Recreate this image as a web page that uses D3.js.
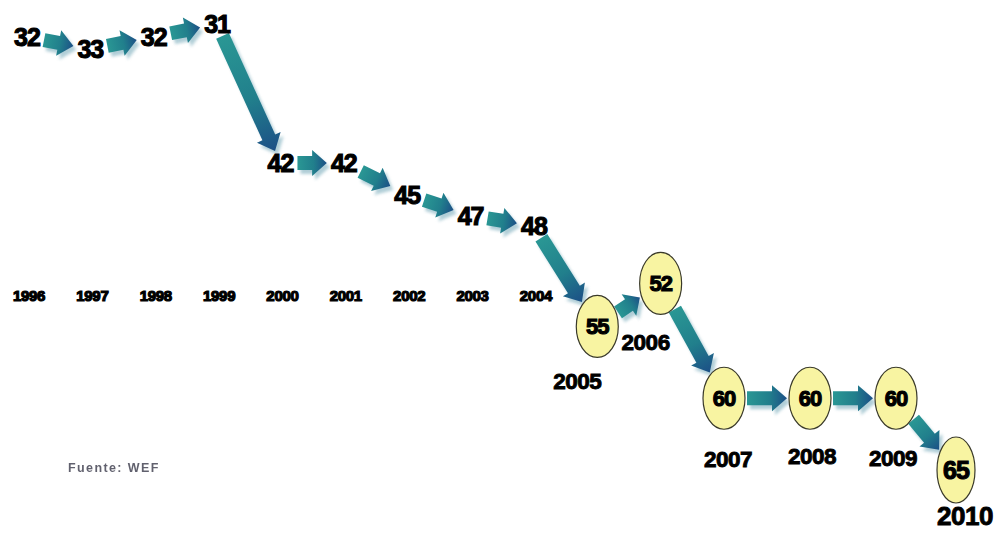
<!DOCTYPE html>
<html>
<head>
<meta charset="utf-8">
<script src="https://cdn.jsdelivr.net/npm/d3@7/dist/d3.min.js"></script>
<style>
  html, body { margin: 0; padding: 0; background: #ffffff; overflow: hidden; }
  svg { display: block; }
</style>
</head>
<body>
<script>
// ---------- data ----------
const years = [1996, 1997, 1998, 1999, 2000, 2001, 2002, 2003, 2004, 2005, 2006, 2007, 2008, 2009, 2010];
const values = [32, 33, 32, 31, 42, 42, 45, 47, 48, 55, 52, 60, 60, 60, 65];
const circledYears = [2005, 2006, 2007, 2008, 2009, 2010];
const sourceText = "Fuente: WEF";

// ---------- layout ----------
const W = 1002, H = 533;
const svg = d3.select("body").append("svg").attr("width", W).attr("height", H);

const x = d3.scaleLinear().domain([1996, 2007, 2009, 2010]).range([27, 724, 896, 956]);
const y = d3.scaleLinear().domain([31, 42, 48, 65]).range([24, 163, 226, 470]);
const yearRowY = 295;
// nudges for the circled-year captions (dx, dy from ellipse centre)
const captionDx = [-20, -15, 4, 2, -3, 9];
const captionDy = [55, 59, 61, 58, 60, 46];

const nodes = years.map((yr, i) => ({
  year: yr, value: values[i], cx: x(yr), cy: y(values[i]),
  circled: circledYears.includes(yr)
}));
const last = years[years.length - 1];

// defs
const defs = svg.append("defs");
const grad = defs.append("linearGradient").attr("id", "arrowGrad")
  .attr("x1", "0").attr("y1", "0").attr("x2", "1").attr("y2", "0");
grad.append("stop").attr("offset", "0%").attr("stop-color", "#2a9794");
grad.append("stop").attr("offset", "55%").attr("stop-color", "#217f8c");
grad.append("stop").attr("offset", "100%").attr("stop-color", "#1c4f86");
defs.append("filter").attr("id", "blur").attr("x", "-20%").attr("y", "-40%").attr("width", "140%").attr("height", "180%")
  .append("feGaussianBlur").attr("stdDeviation", 1.6);

// node extents
function extent(n) {
  if (n.circled) {
    const big = n.year === last;
    return { type: "e", rx: big ? 19 : 21, ry: big ? 33 : 31 };
  }
  return { type: "b", w: 16, h: 11 };
}
function boundary(n, ux, uy) {
  const e = extent(n);
  if (e.type === "e") return 1 / Math.sqrt((ux / e.rx) ** 2 + (uy / e.ry) ** 2) + 2;
  const tx = Math.abs(ux) > 1e-6 ? e.w / Math.abs(ux) : Infinity;
  const ty = Math.abs(uy) > 1e-6 ? e.h / Math.abs(uy) : Infinity;
  return Math.min(tx, ty) + 1;
}

// arrows
const links = d3.pairs(nodes).map(([a, b]) => {
  const dx = b.cx - a.cx, dy = b.cy - a.cy, d = Math.hypot(dx, dy);
  const ux = dx / d, uy = dy / d;
  const s = boundary(a, ux, uy), e = boundary(b, ux, uy);
  return { x0: a.cx + ux * s, y0: a.cy + uy * s, len: d - s - e, ang: Math.atan2(dy, dx) * 180 / Math.PI };
});
function arrowPath(L) {
  const s = 7, hw = 13, hl = Math.min(15, L * 0.5);
  return `M0,${-s}L${L - hl},${-s}L${L - hl},${-hw}L${L},0L${L - hl},${hw}L${L - hl},${s}L0,${s}Z`;
}
const arrowG = svg.append("g");
arrowG.selectAll("path.shadow").data(links).join("path").attr("class", "shadow")
  .attr("d", d => arrowPath(d.len))
  .attr("transform", d => `translate(${d.x0 + 3},${d.y0 + 4}) rotate(${d.ang})`)
  .attr("fill", "#8fb9c6").attr("opacity", 0.7).attr("filter", "url(#blur)");
arrowG.selectAll("path.arrow").data(links).join("path").attr("class", "arrow")
  .attr("d", d => arrowPath(d.len))
  .attr("transform", d => `translate(${d.x0},${d.y0}) rotate(${d.ang})`)
  .attr("fill", "url(#arrowGrad)");

// ellipses
const circled = nodes.filter(n => n.circled);
svg.append("g").selectAll("ellipse").data(circled).join("ellipse")
  .attr("cx", d => d.cx).attr("cy", d => d.cy)
  .attr("rx", d => extent(d).rx).attr("ry", d => extent(d).ry)
  .attr("fill", "#f8f4a2").attr("stroke", "#3a3a2a").attr("stroke-width", 1.2);

// value labels
const FONT = "'Liberation Sans', Arial, sans-serif";
svg.append("g").selectAll("text").data(nodes).join("text")
  .attr("x", d => d.cx).attr("y", d => d.cy)
  .attr("text-anchor", "middle").attr("dominant-baseline", "central")
  .attr("font-family", FONT).attr("font-weight", "bold")
  .attr("font-size", d => d.circled ? (d.year === last ? 25 : 22) : 25)
  .attr("letter-spacing", -1)
  .attr("fill", "#000").attr("stroke", "#000").attr("stroke-width", 1.1)
  .text(d => d.value);

// small year row (uncircled)
svg.append("g").selectAll("text").data(nodes.filter(n => !n.circled)).join("text")
  .attr("x", d => d.cx + 2).attr("y", yearRowY)
  .attr("text-anchor", "middle").attr("dominant-baseline", "central")
  .attr("font-family", FONT).attr("font-weight", "bold").attr("font-size", 15)
  .attr("letter-spacing", -0.3)
  .attr("fill", "#000").attr("stroke", "#000").attr("stroke-width", 1.2)
  .text(d => d.year);

// captions for circled years
svg.append("g").selectAll("text").data(circled).join("text")
  .attr("x", (d, i) => d.cx + captionDx[i]).attr("y", (d, i) => d.cy + captionDy[i])
  .attr("text-anchor", "middle").attr("dominant-baseline", "central")
  .attr("font-family", FONT).attr("font-weight", "bold")
  .attr("font-size", d => d.year === last ? 26 : 22.5)
  .attr("letter-spacing", -0.5)
  .attr("fill", "#000").attr("stroke", "#000").attr("stroke-width", 0.9)
  .text(d => d.year);

// source
svg.append("text").attr("x", 68).attr("y", 472)
  .attr("font-family", FONT).attr("font-weight", "bold").attr("font-size", 12.5)
  .attr("letter-spacing", 1.4)
  .attr("fill", "#3a3a4a").attr("opacity", 0.8)
  .text(sourceText);
</script>
</body>
</html>
